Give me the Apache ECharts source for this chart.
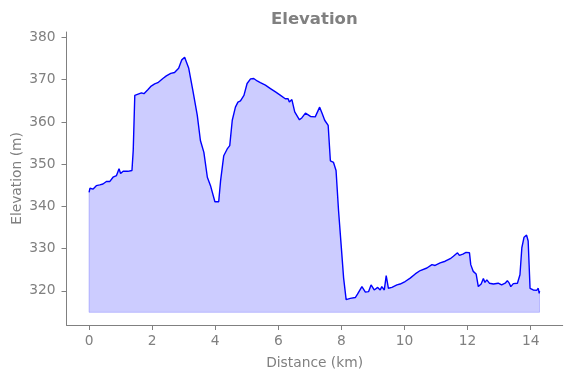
<!DOCTYPE html>
<html>
<head>
<meta charset="utf-8">
<script src="https://cdn.jsdelivr.net/npm/echarts@6/dist/echarts.min.js"></script>
<style>
  html, body { margin: 0; padding: 0; background: #fff; }
  #elevChart { width: 571px; height: 378px; }
</style>
</head>
<body>
<div id="elevChart"></div>
<script>
// distance (km) and elevation (m)
var distance = [0, 0.03, 0.13, 0.23, 0.34, 0.44, 0.55, 0.66, 0.76, 0.87, 0.95, 1.0, 1.08, 1.23, 1.36, 1.40, 1.45,
    1.50, 1.66, 1.74, 1.79, 1.87, 1.97, 2.08, 2.18, 2.34, 2.45, 2.59, 2.71, 2.84, 2.94, 3.03, 3.08, 3.16,
    3.29, 3.43, 3.53, 3.64, 3.75, 3.85, 3.99, 4.11, 4.17, 4.27, 4.38, 4.46, 4.54, 4.64, 4.72, 4.80, 4.91,
    5.01, 5.12, 5.22, 5.33, 5.43, 5.59, 5.75, 5.91, 6.07, 6.22, 6.31, 6.35, 6.43, 6.52, 6.67, 6.75, 6.86,
    7.02, 7.17, 7.31, 7.39, 7.47, 7.58, 7.65, 7.75, 7.83, 7.91, 7.99, 8.07, 8.15, 8.28, 8.44, 8.51, 8.65,
    8.76, 8.86, 8.94, 9.04, 9.15, 9.23, 9.28, 9.36, 9.42, 9.49, 9.60, 9.76, 9.86, 10.02, 10.18, 10.34,
    10.50, 10.71, 10.87, 10.97, 11.13, 11.29, 11.45, 11.55, 11.68, 11.74, 11.85, 11.95, 12.06, 12.10,
    12.18, 12.27, 12.34, 12.43, 12.50, 12.55, 12.61, 12.69, 12.82, 12.97, 13.08, 13.19, 13.26, 13.32,
    13.37, 13.45, 13.58, 13.66, 13.72, 13.79, 13.87, 13.92, 13.98, 14.08, 14.19, 14.24, 14.27, 14.28];
var elevation = [343.3, 344.3, 344.1, 344.9, 345.1, 345.3, 345.9, 345.9, 346.9, 347.3, 348.9, 347.8, 348.3, 348.3, 348.5, 353.2, 366.3,
    366.7, 366.9, 366.7, 366.5, 367.7, 368.5, 369.0, 369.3, 370.3, 370.9, 371.5, 371.7, 372.7, 374.7, 375.3, 375.1, 372.7,
    367.5, 361.6, 355.6, 352.8, 346.9, 344.9, 341.1, 341.1, 346.1, 352.0, 353.6, 354.4, 360.4, 363.5, 364.7, 365.0, 366.3,
    369.1, 370.2, 370.3, 369.7, 369.3, 368.7, 367.9, 367.1, 366.3, 365.5, 365.5, 364.7, 365.3, 362.4, 360.5, 361.0, 362.1,
    361.3, 361.2, 363.5, 362.0, 360.4, 359.2, 350.8, 350.4, 348.5, 338.9, 331.0, 323.0, 317.9, 318.2, 318.4, 319.2, 321.0,
    319.7, 319.8, 321.4, 320.2, 320.8, 320.2, 321.0, 320.2, 323.6, 320.6, 320.8, 321.4, 321.6, 322.2, 323.0, 324.0,
    324.8, 325.4, 326.2, 326.0, 326.6, 327.0, 327.6, 328.2, 329.0, 328.4, 328.7, 329.1, 329.0, 326.2,
    324.6, 324.0, 321.0, 321.6, 322.9, 322.0, 322.6, 321.8, 321.6, 321.8, 321.4, 321.8, 322.4, 321.8,
    321.0, 321.7, 321.8, 323.8, 330.2, 332.7, 333.2, 331.8, 320.6, 320.2, 320.1, 320.6, 319.4, 320.0];
var xTicks = [0, 2, 4, 6, 8, 10, 12, 14];
var yTicks = [320, 330, 340, 350, 360, 370, 380];

var minElev = Math.min.apply(null, elevation);
var maxElev = Math.max.apply(null, elevation);
var fillBase = minElev - 3;
var lastKm = distance[distance.length - 1];

var points = [];
for (var i = 0; i < distance.length; i++) {
    points.push([distance[i], elevation[i]]);
}

var grey = '#808080';
var font = 'DejaVu Sans';

var elevChart = echarts.init(document.getElementById('elevChart'));
var option = {
    animation: false,
    title: {
        text: 'Elevation',
        left: 266,
        top: 6,
        textStyle: { color: grey, fontFamily: font, fontSize: 16.5, fontWeight: 'bold' }
    },
    grid: { left: 66.5, right: 8.3, top: 32, bottom: 53, outerBoundsMode: 'none', containLabel: false },
    xAxis: {
        type: 'value',
        min: -0.715,
        max: lastKm + 0.735,
        name: 'Distance (km)',
        nameLocation: 'middle',
        nameGap: 31,
        nameMoveOverlap: false,
        nameTextStyle: { color: grey, fontFamily: font, fontSize: 13.8 },
        axisLine: { onZero: false, lineStyle: { color: grey, width: 1 } },
        axisTick: { show: true, length: 5, customValues: xTicks, lineStyle: { color: grey } },
        axisLabel: { customValues: xTicks, color: grey, fontFamily: font, fontSize: 13.8, margin: 9 },
        splitLine: { show: false }
    },
    yAxis: {
        type: 'value',
        min: minElev - 6,
        max: maxElev + 6,
        name: 'Elevation (m)',
        nameLocation: 'middle',
        nameGap: 42,
        nameMoveOverlap: false,
        nameTextStyle: { color: grey, fontFamily: font, fontSize: 13.8 },
        axisLine: { show: true, onZero: false, lineStyle: { color: grey, width: 1 } },
        axisTick: { show: true, length: 5, customValues: yTicks, lineStyle: { color: grey } },
        axisLabel: { customValues: yTicks, color: grey, fontFamily: font, fontSize: 13.8, margin: 11 },
        splitLine: { show: false }
    },
    series: [
        {
            // edge of the filled area
            type: 'line',
            data: [[0, elevation[0]], [0, fillBase], [lastKm, fillBase], [lastKm, elevation[elevation.length - 1]]],
            symbol: 'none',
            silent: true,
            lineStyle: { color: 'rgba(0,0,255,0.2)', width: 1 }
        },
        {
            type: 'line',
            data: points,
            symbol: 'none',
            lineStyle: { color: '#0000ff', width: 1.4 },
            areaStyle: { color: 'rgba(0,0,255,0.2)', origin: fillBase, opacity: 1 }
        }
    ]
};
elevChart.setOption(option);
</script>
</body>
</html>
